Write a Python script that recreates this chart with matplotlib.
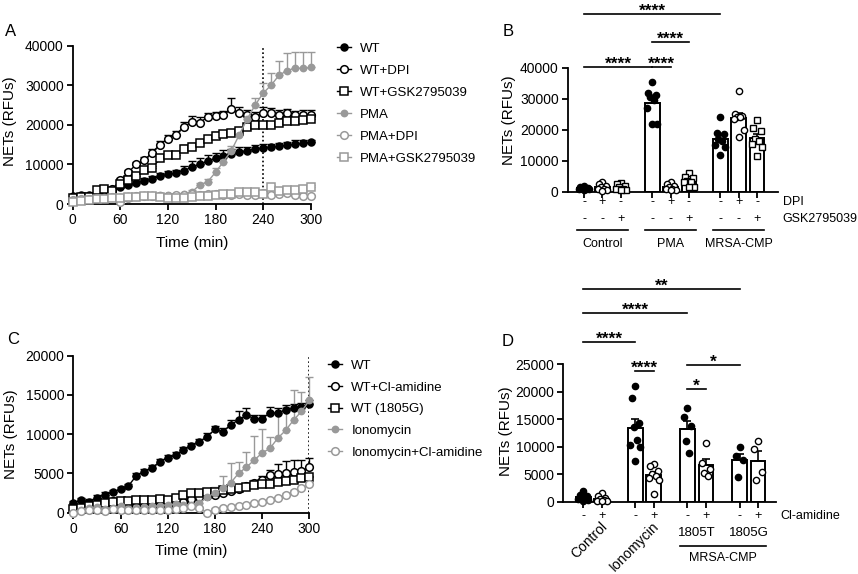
import numpy as np
import matplotlib.pyplot as plt
from matplotlib.lines import Line2D
from matplotlib.transforms import blended_transform_factory

plt.rcParams['font.family'] = ['Liberation Sans', 'DejaVu Sans']

# ---------------- data ----------------
time = np.arange(0, 301, 10)

# panel A (NETs, RFUs)
a_wt = [2000, 2300, 2400, 2800, 3000, 3200, 4300, 4800, 5300, 5800, 6300, 7000, 7500, 7900, 8400, 9300,
        10000, 10800, 11500, 12100, 12600, 13100, 13500, 13900, 14200, 14400, 14600, 14900, 15100, 15300, 15600]
a_wt_err = [300, 300, 300, 1000, 800, 500, 500, 500, 600, 700, 700, 800, 800, 800, 1200, 1500,
            1500, 1500, 1500, 1500, 1300, 1200, 1000, 1000, 1000, 800, 800, 800, 1000, 800, 600]
a_wt_dpi = [1500, 1700, 1900, 2500, 3500, 3800, 6000, 8000, 10000, 11000, 13000, 15000, 16500, 17500, 19500, 20700,
            20500, 22000, 22300, 22500, 24000, 23000, 22500, 22000, 23000, 23000, 22500, 23000, 22500, 22500, 22500]
a_wt_dpi_err = [200, 200, 300, 1200, 500, 500, 600, 600, 700, 800, 900, 1000, 1000, 1000, 1200, 1500,
                1500, 1000, 1000, 1000, 2800, 1500, 1200, 1200, 1500, 1200, 1200, 1000, 1000, 1200, 1300]
a_wt_gsk = [1500, 1700, 1800, 3500, 3800, 3200, 5000, 6000, 7000, 8500, 9000, 11500, 12300, 12500, 14000, 14500,
            15300, 16500, 17300, 17700, 18000, 18500, 19500, 20000, 20000, 20000, 20500, 21000, 21000, 21300, 21500]
a_wt_gsk_err = [200, 200, 300, 800, 600, 500, 500, 500, 500, 600, 700, 800, 800, 800, 1000, 1000,
                800, 800, 800, 800, 800, 800, 800, 800, 800, 800, 800, 800, 800, 800, 800]
a_pma = [1000, 1200, 1300, 1500, 1600, 1700, 1800, 2000, 2100, 2200, 2200, 2300, 2300, 2400, 2500, 3000,
         4800, 5600, 8000, 10700, 13500, 17500, 21500, 25000, 28000, 30000, 32500, 33700, 34300, 34300, 34500]
a_pma_err = [200, 200, 200, 200, 200, 200, 200, 200, 200, 200, 200, 200, 200, 200, 300, 500,
             600, 700, 1000, 1000, 1200, 1300, 1500, 1800, 2500, 3200, 3700, 4500, 4200, 4200, 4000]
a_pma_dpi = [1000, 1200, 1300, 1500, 1500, 1800, 500, 1500, 2000, 2000, 2100, 2000, 2100, 2200, 2200, 2500,
             2200, 2500, 2500, 2200, 2300, 2500, 2300, 2200, 2800, 2300, 2500, 2800, 2200, 2000, 2000]
a_pma_dpi_err = [300] * 31
a_pma_gsk = [500, 800, 1000, 1200, 1300, 1500, 1500, 1800, 1800, 2000, 2000, 1800, 1500, 1500, 1600, 1800,
             2000, 2000, 2200, 2500, 2500, 3000, 3000, 3000, 2500, 4400, 3300, 3500, 3500, 3800, 4400]
a_pma_gsk_err = [300] * 31

# panel C
c_wt = [1200, 1600, 1400, 1900, 2300, 2600, 3000, 3400, 4700, 5200, 5700, 6500, 7000, 7300, 8000, 8500,
        9000, 9700, 10600, 10300, 11200, 11800, 12400, 12000, 12000, 12700, 12700, 13100, 13300, 13500, 13800]
c_wt_err = [300, 300, 300, 300, 300, 300, 300, 300, 400, 400, 400, 400, 400, 400, 400, 400,
            400, 400, 500, 500, 600, 1200, 1000, 500, 500, 800, 700, 600, 500, 500, 500]
c_wt_cl = [300, 500, 700, 800, 1000, 1500, 1200, 1000, 900, 800, 900, 1000, 1000, 1100, 1300, 1800,
           2000, 2100, 2300, 2500, 2800, 3000, 3400, 3800, 4200, 4800, 4900, 5100, 5200, 5300, 5800]
c_wt_cl_err = [200, 200, 200, 200, 200, 300, 300, 300, 300, 300, 300, 300, 300, 300, 300, 300,
               300, 300, 300, 300, 300, 300, 300, 400, 500, 600, 1300, 1500, 1500, 1400, 1200]
c_wt_1805g = [500, 600, 800, 1000, 1200, 1400, 1500, 1500, 1600, 1600, 1600, 1700, 1600, 1900, 2200, 2500,
              2500, 2600, 2700, 2900, 3000, 3100, 3300, 3500, 3600, 3700, 3900, 4000, 4200, 4400, 4500]
c_wt_1805g_err = [200] * 31
c_iono = [0, 300, 600, 700, 500, 600, 800, 500, 600, 700, 800, 900, 1000, 1100, 1000, 1000,
          1200, 2000, 2500, 3200, 3800, 5000, 5800, 6700, 7600, 8200, 9500, 10500, 11800, 12900, 14300]
c_iono_err = [200, 200, 200, 200, 200, 200, 200, 200, 200, 200, 200, 200, 200, 200, 200, 300,
              400, 600, 800, 1500, 2500, 1500, 1900, 3100, 3000, 1500, 3200, 3000, 3800, 2500, 3000]
c_iono_cl = [0, 200, 400, 300, 200, 500, 300, 400, 300, 300, 300, 400, 400, 500, 600, 800,
             600, 0, 400, 600, 700, 900, 1000, 1200, 1400, 1600, 1900, 2300, 2700, 3100, 3700]
c_iono_cl_err = [150] * 31

# panel B (points per condition)
b_groups = ['Control', 'PMA', 'MRSA-CMP']
b_dpi = ['-', '+', '-']
b_gsk = ['-', '-', '+']
b_points = [
    [1800, 1500, 1300, 1200, 1000, 900, 800, 600],
    [3200, 2500, 1800, 1500, 1000, 800, 500, 300],
    [2800, 2500, 1800, 1500, 1000, 900, 700, 500],
    [35500, 31800, 31200, 30500, 29500, 27000, 22000, 22000],
    [3000, 2500, 2000, 1500, 1000, 800, 600, 500],
    [5900, 4800, 4500, 3500, 3200, 3000, 1600, 1500],
    [24000, 19000, 18500, 17000, 16500, 15000, 14500, 12000],
    [32500, 25000, 24500, 24000, 24000, 23500, 20000, 17500],
    [23000, 20500, 19500, 17000, 16500, 15500, 14500, 11500],
]

# panel D
d_groups = ['Control', 'Ionomycin', '1805T', '1805G']
d_cl = ['-', '+']
d_points = [
    [1900, 1300, 1100, 900, 700, 500, 300, 200],
    [1500, 1100, 700, 500, 300, 200, 100, 100],
    [21000, 18900, 14200, 13500, 11200, 10300, 10000, 7400],
    [6900, 6400, 5600, 5000, 4700, 4300, 4000, 1400],
    [17100, 15400, 13700, 11000, 8800],
    [10600, 7000, 6000, 5200, 4700],
    [9900, 8300, 7600, 4400],
    [11100, 9500, 5400, 3900],
]

# ---------------- layout ----------------
W, H = 858, 574
GRAY = '#999999'
fig = plt.figure(figsize=(W / 100, H / 100), dpi=100)


def px_axes(left, top, right, bottom):
    return fig.add_axes([left / W, 1 - bottom / H, (right - left) / W, (bottom - top) / H])


def style(ax):
    for s in ['top', 'right']:
        ax.spines[s].set_visible(False)
    for s in ['left', 'bottom']:
        ax.spines[s].set_linewidth(1.3)
    ax.tick_params(direction='out', length=4, width=1.3, labelsize=10, pad=2.5)


def draw_series(ax, y, err, marker, color, face, ms):
    y = np.asarray(y, float)
    err = np.asarray(err, float)
    ax.errorbar(time, y, yerr=[np.zeros_like(err), err], fmt='none', ecolor=color,
                elinewidth=1.0, capsize=3, capthick=1.0, clip_on=False, zorder=2)
    ax.plot(time, y, '-', marker=marker, color=color, mfc=face, mec=color, ms=ms, mew=1.1,
            lw=1.0, clip_on=False, zorder=3)
    return Line2D([], [], color=color, marker=marker, mfc=face, mec=color, ms=ms, mew=1.1, lw=1.0)


def time_panel(ax, ymax, step, vline):
    style(ax)
    ax.set_xlim(0, 300)
    ax.set_ylim(0, ymax)
    ax.set_xticks(np.arange(0, 301, 60))
    ax.set_yticks(np.arange(0, ymax + 1, step))
    ax.axvline(vline, color='black', ls=(0, (1, 1.5)), lw=1.2, zorder=1)
    ax.set_xlabel('Time (min)', fontsize=11)
    ax.set_ylabel('NETs (RFUs)', fontsize=11)


# ---------- Panel A ----------
axA = px_axes(72.7, 45.7, 310.7, 204)
time_panel(axA, 40000, 10000, 240)
handlesA = [
    draw_series(axA, a_wt, a_wt_err, 'o', 'black', 'black', 5),
    draw_series(axA, a_wt_dpi, a_wt_dpi_err, 'o', 'black', 'white', 5.5),
    draw_series(axA, a_wt_gsk, a_wt_gsk_err, 's', 'black', 'white', 5.5),
    draw_series(axA, a_pma, a_pma_err, 'o', GRAY, GRAY, 4.5),
    draw_series(axA, a_pma_dpi, a_pma_dpi_err, 'o', GRAY, 'white', 5.5),
    draw_series(axA, a_pma_gsk, a_pma_gsk_err, 's', GRAY, 'white', 5.5),
]
labelsA = ['WT', 'WT+DPI', 'WT+GSK2795039', 'PMA', 'PMA+DPI', 'PMA+GSK2795039']
axA.xaxis.set_label_coords(0.5, -0.2)
axA.yaxis.set_label_coords(-0.232, 0.52)
fig.legend(handlesA, labelsA, loc='upper left', bbox_to_anchor=(330 / W, 1 - 36 / H), frameon=False,
           fontsize=9.5, handlelength=1.1, handletextpad=0.7, labelspacing=0.74, borderpad=0)
fig.text(5 / W, 1 - 31.5 / H, 'A', fontsize=12, va='center', ha='left')

# ---------- Panel C ----------
axC = px_axes(73.3, 355.7, 309.3, 512.7)
time_panel(axC, 20000, 5000, 300)
handlesC = [
    draw_series(axC, c_wt, c_wt_err, 'o', 'black', 'black', 5),
    draw_series(axC, c_wt_cl, c_wt_cl_err, 'o', 'black', 'white', 5.5),
    draw_series(axC, c_wt_1805g, c_wt_1805g_err, 's', 'black', 'white', 5.5),
    draw_series(axC, c_iono, c_iono_err, 'o', GRAY, GRAY, 4.5),
    draw_series(axC, c_iono_cl, c_iono_cl_err, 'o', GRAY, 'white', 5.5),
]
labelsC = ['WT', 'WT+Cl-amidine', 'WT (1805G)', 'Ionomycin', 'Ionomycin+Cl-amidine']
axC.xaxis.set_label_coords(0.5, -0.2)
axC.yaxis.set_label_coords(-0.236, 0.5)
fig.legend(handlesC, labelsC, loc='upper left', bbox_to_anchor=(321 / W, 1 - 353 / H), frameon=False,
           fontsize=9.5, handlelength=1.1, handletextpad=0.7, labelspacing=0.72, borderpad=0)
fig.text(7 / W, 1 - 340 / H, 'C', fontsize=12, va='center', ha='left')

# offsets that spread the dots sideways inside a bar
SPREAD = [0.0, -0.2, 0.2, -0.1, 0.1, -0.27, 0.27, 0.0]


def bar_panel(ax, pos, points, markers, faces):
    style(ax)
    means = [np.mean(p) for p in points]
    sems = [np.std(p, ddof=1) / np.sqrt(len(p)) for p in points]
    ax.bar(pos, means, width=0.8, facecolor='white', edgecolor='black', lw=1.4, zorder=2)
    ax.errorbar(pos, means, yerr=[np.zeros(len(sems)), sems], fmt='none', ecolor='black',
                elinewidth=1.2, capsize=3, capthick=1.2, zorder=3)
    for x, p, m, f in zip(pos, points, markers, faces):
        off = np.array(SPREAD[:len(p)])
        ax.plot(x + off, p, ls='none', marker=m, mfc=f, mec='black', ms=4.5, mew=1.0,
                zorder=4, clip_on=False)
    ax.set_xticks(pos)
    ax.set_xticklabels([])
    ax.set_ylabel('NETs (RFUs)', fontsize=11)


def sig(ax, x0, x1, y, text):
    ax.plot([x0, x1], [y, y], color='black', lw=1.2, clip_on=False)
    ax.annotate(text, xy=((x0 + x1) / 2, y), xytext=(0, -1.5), textcoords='offset points',
                ha='center', va='baseline', fontsize=12.5, fontweight='bold', annotation_clip=False)


# ---------- Panel B ----------
axB = px_axes(567.7, 67.7, 778, 191.7)
posB = np.array([g * 3.7 + i for g in range(3) for i in range(3)])
mkB = ['o', 'o', 's'] * 3
fcB = ['black', 'white', 'white'] * 3
bar_panel(axB, posB, b_points, mkB, fcB)
axB.set_xlim(-0.89, 10.54)
axB.set_ylim(0, 40000)
axB.set_yticks(np.arange(0, 40001, 10000))
axB.yaxis.set_label_coords(-0.246, 0.58)
tB = blended_transform_factory(axB.transData, axB.transAxes)
for g in range(3):
    for i in range(3):
        x = posB[g * 3 + i]
        axB.text(x, -0.085, b_dpi[i], transform=tB, ha='center', va='center', fontsize=9)
        axB.text(x, -0.22, b_gsk[i], transform=tB, ha='center', va='center', fontsize=9)
    x0, x1 = posB[g * 3] - 0.4, posB[g * 3 + 2] + 0.4
    axB.plot([x0, x1], [-0.31, -0.31], transform=tB, color='black', lw=1.2, clip_on=False)
    axB.text((x0 + x1) / 2, -0.42, b_groups[g], transform=tB, ha='center', va='center', fontsize=9)
axB.text(10.8, -0.085, 'DPI', transform=tB, ha='left', va='center', fontsize=9)
axB.text(10.8, -0.22, 'GSK2795039', transform=tB, ha='left', va='center', fontsize=9)
sig(axB, posB[0], posB[3], 40300, '****')
sig(axB, posB[3], posB[4], 40300, '****')
sig(axB, posB[3], posB[5], 48400, '****')
sig(axB, posB[0], posB[6], 57300, '****')
fig.text(503 / W, 1 - 31.5 / H, 'B', fontsize=12, va='center', ha='left')

# ---------- Panel D ----------
axD = px_axes(563.3, 364, 776, 501.7)
posD = np.array([g * 2.83 + i for g in range(4) for i in range(2)])
mkD = ['o', 'o'] * 4
fcD = ['black', 'white'] * 4
bar_panel(axD, posD, d_points, mkD, fcD)
axD.set_xlim(-1.09, 10.47)
axD.set_ylim(0, 25000)
axD.set_yticks(np.arange(0, 25001, 5000))
axD.yaxis.set_label_coords(-0.236, 0.51)
tD = blended_transform_factory(axD.transData, axD.transAxes)
for g in range(4):
    for i in range(2):
        axD.text(posD[g * 2 + i], -0.105, d_cl[i], transform=tD, ha='center', va='center', fontsize=9)
axD.text(10.7, -0.105, 'Cl-amidine', transform=tD, ha='left', va='center', fontsize=9)
for g in range(2):
    xc = (posD[g * 2] + posD[g * 2 + 1]) / 2
    axD.text(xc + 0.4, -0.13, d_groups[g], transform=tD, ha='right', va='top', rotation=45,
             rotation_mode='anchor', fontsize=10)
for g in range(2, 4):
    xc = (posD[g * 2] + posD[g * 2 + 1]) / 2
    axD.text(xc, -0.225, d_groups[g], transform=tD, ha='center', va='center', fontsize=9.5)
axD.plot([posD[4] - 0.4, posD[7] + 0.45], [-0.32, -0.32], transform=tD, color='black', lw=1.2,
         clip_on=False)
axD.text((posD[4] + posD[7]) / 2, -0.41, 'MRSA-CMP', transform=tD, ha='center', va='center', fontsize=9)
sig(axD, posD[0], posD[6], 38600, '**')
sig(axD, posD[0], posD[4], 34300, '****')
sig(axD, posD[0], posD[2], 29050, '****')
sig(axD, posD[2], posD[3], 23800, '****')
sig(axD, posD[4], posD[6], 24800, '*')
sig(axD, posD[4], posD[5], 20500, '*')
fig.text(502 / W, 1 - 342 / H, 'D', fontsize=12, va='center', ha='left')

fig.savefig('out.png', dpi=100)
